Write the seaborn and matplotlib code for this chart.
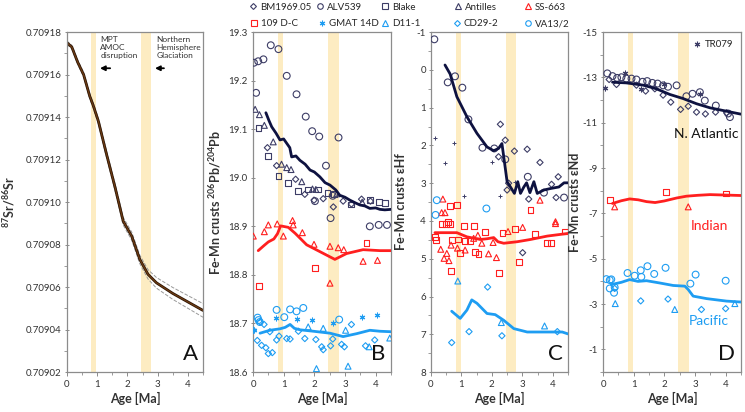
import numpy as np
import seaborn as sns
import matplotlib.pyplot as plt
from matplotlib.lines import Line2D
from matplotlib.ticker import MultipleLocator, FormatStrFormatter

# ---------------- data ----------------
mpt_band = [0.81, 0.97]
nhg_band = [2.46, 2.79]

# panel A: seawater Sr isotope curve
sr_age = [0, 0.16, 0.35, 0.55, 0.75, 0.88, 1.04, 1.3, 1.59, 1.86, 2.14, 2.41, 2.68, 2.96, 3.5, 4.0, 4.5]
sr_val = [0.709175, 0.709173, 0.709166, 0.709160, 0.709150, 0.709145, 0.709138, 0.709123, 0.709107,
          0.709091, 0.709084, 0.709073, 0.709066, 0.709062, 0.709057, 0.709053, 0.709049]
sr_err = [0.8e-6, 0.8e-6, 1.0e-6, 1.0e-6, 1.2e-6, 1.2e-6, 1.3e-6, 1.5e-6, 1.6e-6, 1.8e-6, 1.9e-6,
          2.0e-6, 2.2e-6, 2.5e-6, 2.8e-6, 3.0e-6, 3.2e-6]

# panel B: 206Pb/204Pb
b_bm_x = [0.47, 0.77, 1.39, 1.69, 1.99, 2.29, 2.62, 2.94, 3.21, 3.54, 3.83]
b_bm_y = [19.062, 19.025, 18.997, 18.966, 18.954, 18.957, 18.94, 18.952, 18.946, 18.956, 18.952]
b_alv_x = [0.03, 0.1, 0.17, 0.34, 0.58, 0.83, 1.1, 1.42, 1.72, 1.93, 2.16, 2.38, 2.79, 2.02, 2.53, 2.6, 3.81, 4.1, 4.37]
b_alv_y = [19.237, 19.175, 19.24, 19.244, 19.273, 19.265, 19.21, 19.172, 19.126, 19.096, 19.085, 19.025,
           19.083, 18.952, 18.917, 18.963, 18.90, 18.903, 18.903]
b_blake_x = [0.18, 0.48, 0.83, 1.13, 1.47, 1.78, 2.11, 2.43, 2.64, 3.21, 3.81, 4.1, 4.3]
b_blake_y = [19.103, 19.044, 19.004, 18.989, 18.973, 18.976, 18.976, 18.969, 18.966, 18.945, 18.955, 18.95, 18.948]
b_ant_x = [0.07, 0.21, 0.37, 0.66, 0.93, 1.1, 1.24, 1.59, 1.94, 2.05, 2.73, 3.56]
b_ant_y = [19.141, 19.13, 19.108, 19.074, 19.028, 19.021, 19.017, 18.992, 18.977, 18.976, 18.967, 18.95]
b_atl_x = [0.42, 0.52, 0.61, 0.75, 0.88, 1.0, 1.1, 1.2, 1.26, 1.4, 1.53, 1.7, 1.86, 2.0, 2.18, 2.35, 2.51,
           2.7, 2.83, 3.0, 3.16, 3.35, 3.49, 3.65, 3.81, 4.0, 4.14, 4.3, 4.5]
b_atl_y = [19.134, 19.118, 19.105, 19.092, 19.078, 19.08, 19.071, 19.062, 19.043, 19.045, 19.036, 19.028,
           19.016, 19.012, 19.002, 18.99, 18.985, 18.975, 18.964, 18.96, 18.954, 18.948, 18.944, 18.942,
           18.937, 18.938, 18.935, 18.934, 18.935]
b_ss_x = [0.01, 0.37, 0.5, 0.79, 0.99, 1.29, 1.31, 1.61, 1.99, 2.51, 2.51, 2.78, 2.96, 3.59, 4.06]
b_ss_y = [18.88, 18.889, 18.903, 18.905, 18.88, 18.912, 18.903, 18.887, 18.863, 18.859, 18.783, 18.856,
          18.852, 18.828, 18.83]
b_dc_x = [0.2, 2.02, 3.7]
b_dc_y = [18.778, 18.815, 18.866]
b_ind_x = [0.17, 0.35, 0.5, 0.68, 0.8, 0.9, 1.15, 1.37, 1.75, 2.18, 2.67, 3.05, 3.59, 4.14, 4.5]
b_ind_y = [18.85, 18.86, 18.868, 18.874, 18.885, 18.901, 18.898, 18.886, 18.862, 18.848, 18.832, 18.844,
           18.852, 18.85, 18.85]
b_va_x = [0.15, 0.18, 0.22, 0.77, 1.02, 1.21, 1.42, 1.64, 2.81]
b_va_y = [18.712, 18.707, 18.703, 18.728, 18.713, 18.729, 18.725, 18.732, 18.708]
b_gmat_x = [0.03, 0.74, 1.44, 1.94, 2.6, 3.54, 4.03]
b_gmat_y = [18.686, 18.712, 18.71, 18.708, 18.701, 18.713, 18.718]
b_cd_x = [0.01, 0.14, 0.23, 0.28, 0.36, 0.42, 0.5, 0.55, 0.63, 0.77, 0.85, 1.1, 1.21, 1.48, 1.69, 2.05,
          2.24, 2.29, 2.53, 2.6, 2.89, 2.98, 3.21, 3.67, 3.97]
b_cd_y = [18.686, 18.665, 18.703, 18.655, 18.698, 18.65, 18.638, 18.683, 18.64, 18.666, 18.674, 18.669,
          18.668, 18.684, 18.669, 18.667, 18.652, 18.646, 18.654, 18.668, 18.657, 18.652, 18.698, 18.654, 18.666]
b_d11_x = [1.8, 2.07, 2.29, 3.02, 3.1, 3.79, 4.46]
b_d11_y = [18.693, 18.607, 18.69, 18.686, 18.612, 18.652, 18.67]
b_pac_x = [0.23, 0.55, 0.88, 1.05, 1.21, 1.35, 1.53, 1.97, 2.51, 2.94, 3.38, 3.81, 4.14, 4.5]
b_pac_y = [18.68, 18.686, 18.689, 18.692, 18.698, 18.69, 18.687, 18.684, 18.68, 18.673, 18.679, 18.686,
           18.684, 18.683]

# panel C: eHf
c_alv_x = [0.11, 0.55, 0.79, 1.03, 1.23, 1.69, 2.08, 2.44, 3.18, 3.71, 4.37]
c_alv_y = [-0.81, 0.33, 0.17, 0.47, 1.31, 2.06, 2.08, 2.37, 2.83, 3.25, 3.38]
c_bm_x = [2.28, 2.44, 2.74, 2.22, 3.16, 3.58, 4.18, 2.5, 2.55, 3.21, 4.11, 3.96, 3.01]
c_bm_y = [1.44, 1.86, 2.15, 2.3, 2.1, 2.45, 2.83, 3.18, 3.0, 3.42, 3.38, 3.03, 4.84]
c_tr_x = [0.13, 0.76, 0.46, 1.07, 2.0, 2.28, 2.77]
c_tr_y = [1.8, 1.93, 2.46, 3.34, 2.43, 3.34, 2.96]
c_atl_x = [0.46, 0.63, 0.85, 1.18, 1.51, 1.84, 2.06, 2.22, 2.33, 2.39, 2.5, 2.61, 2.74, 2.85, 2.94, 3.05,
           3.14, 3.25, 3.38, 3.49, 3.71, 3.93, 4.2, 4.37, 4.5]
c_atl_y = [-0.13, 0.11, 0.71, 1.24, 1.68, 2.04, 2.14, 2.08, 1.95, 2.3, 2.96, 3.1, 3.27, 2.96, 3.27, 3.1,
           2.99, 3.25, 2.96, 3.27, 3.18, 3.14, 3.1, 2.99, 2.99]
c_dc_x = [0.63, 0.85, 3.27, 0.13, 0.16, 0.35, 0.5, 0.57, 0.63, 0.68, 0.66, 0.96, 0.88, 1.07, 1.12, 1.4,
          1.45, 1.56, 1.76, 1.29, 2.23, 2.35, 2.75, 2.88, 3.43, 3.8, 3.95, 4.4]
c_dc_y = [3.61, 3.58, 3.7, 4.42, 4.51, 4.08, 4.07, 4.02, 4.07, 4.51, 5.32, 4.84, 4.49, 4.14, 4.53, 4.14,
          4.81, 4.87, 4.3, 4.53, 5.38, 4.31, 4.22, 5.08, 4.34, 4.59, 4.59, 4.28]
c_ss_x = [0.39, 3.58, 0.32, 0.35, 0.46, 0.43, 0.52, 0.59, 0.66, 0.87, 1.12, 1.4, 1.54, 1.67, 1.89, 2.04,
          2.15, 2.53, 3.01, 4.09, 4.09]
c_ss_y = [3.42, 3.45, 4.75, 3.78, 3.78, 4.99, 4.86, 5.05, 4.64, 4.72, 4.77, 4.46, 4.38, 4.59, 4.87, 4.57,
          4.97, 4.28, 4.17, 4.02, 4.07]
c_ind_x = [0.13, 0.5, 0.85, 1.18, 1.62, 1.85, 2.06, 2.2, 2.39, 2.83, 3.27, 3.82, 4.5]
c_ind_y = [4.31, 4.31, 4.31, 4.42, 4.49, 4.47, 4.44, 4.55, 4.59, 4.55, 4.49, 4.40, 4.33]
c_va_x = [0.19, 0.15, 1.82]
c_va_y = [3.45, 3.84, 3.67]
c_cd_x = [0.68, 1.25, 1.86, 2.33, 4.15]
c_cd_y = [7.22, 6.93, 5.75, 7.04, 6.93]
c_d11_x = [0.88, 2.31, 3.73]
c_d11_y = [5.59, 6.69, 6.78]
c_pac_x = [0.68, 0.96, 1.18, 1.34, 1.51, 1.84, 2.11, 2.39, 2.72, 3.16, 3.82, 4.31, 4.5]
c_pac_y = [6.39, 6.58, 6.36, 6.09, 6.18, 6.45, 6.48, 6.63, 6.85, 6.94, 6.94, 6.94, 6.99]

# panel D: eNd
d_alv_x = [0.14, 0.31, 0.46, 0.6, 0.76, 0.93, 1.09, 1.29, 1.44, 1.61, 1.78, 1.96, 2.12, 2.4, 2.72, 2.92,
           3.16, 3.32, 3.68, 4.08, 4.14]
d_alv_y = [-13.18, -13.06, -12.98, -13.01, -12.95, -12.95, -12.91, -12.81, -12.84, -12.76, -12.73, -12.65,
           -12.59, -12.65, -12.17, -12.28, -12.35, -11.98, -11.76, -11.41, -11.25]
d_bm_x = [0.2, 0.44, 1.09, 1.39, 1.69, 1.96, 2.21, 2.53, 2.78, 3.05, 3.34, 3.67, 4.03]
d_bm_y = [-12.91, -12.69, -12.66, -12.4, -12.5, -12.22, -11.91, -11.59, -11.73, -11.47, -11.39, -11.47, -11.44]
d_tr_x = [0.05, 0.71, 1.25, 1.98, 3.16]
d_tr_y = [-12.54, -13.18, -12.5, -12.69, -12.29]
d_atl_x = [0.31, 0.76, 1.31, 1.74, 2.18, 2.61, 3.05, 3.49, 4.03, 4.5]
d_atl_y = [-12.79, -12.76, -12.66, -12.5, -12.25, -12.07, -11.84, -11.66, -11.51, -11.38]
d_dc_x = [0.24, 2.05, 4.0]
d_dc_y = [-7.58, -7.95, -7.88]
d_ss_x = [0.38, 2.78]
d_ss_y = [-7.29, -7.29]
d_ind_x = [0.31, 0.6, 0.87, 1.15, 1.42, 1.7, 2.0, 2.4, 2.72, 3.1, 3.49, 4.0, 4.5]
d_ind_y = [-7.44, -7.56, -7.64, -7.6, -7.52, -7.48, -7.55, -7.68, -7.76, -7.8, -7.83, -7.81, -7.79]
d_va_x = [0.11, 0.22, 0.27, 0.22, 0.38, 0.36, 0.8, 1.03, 1.23, 1.25, 1.45, 1.67, 2.04, 2.85, 3.02, 4.0]
d_va_y = [-4.1, -4.06, -4.09, -3.69, -3.74, -3.5, -4.37, -4.25, -4.49, -4.2, -4.67, -4.33, -4.6, -3.9, -4.3, -4.03]
d_cd_x = [0.38, 1.23, 2.12, 3.21, 4.0]
d_cd_y = [-3.69, -3.14, -3.22, -2.76, -2.8]
d_d11_x = [0.4, 2.34, 4.3]
d_d11_y = [-3.02, -2.76, -3.02]
d_pac_x = [0.27, 0.6, 0.87, 1.14, 1.42, 1.85, 2.29, 2.67, 2.78, 2.94, 3.38, 4.03, 4.5]
d_pac_y = [-3.86, -3.96, -4.08, -4.0, -4.03, -3.93, -3.82, -3.79, -3.64, -3.35, -3.24, -3.13, -3.09]

legend_labels = ['BM1969.05', 'ALV539', 'Blake', 'Antilles', 'SS-663',
                 '109 D-C', 'GMAT 14D', 'D11-1', 'CD29-2', 'VA13/2']

# ---------------- style ----------------
navy_line = '#0e1240'
navy = '#3d3d66'
red = '#ff1f1f'
blue = '#1e9df2'
band = '#fdecc2'
spine = '#8c8c8c'
star = (6, 2, 0)

sns.set_theme(style='ticks')
plt.rcParams['font.family'] = ['Lato', 'DejaVu Sans']
plt.rcParams['mathtext.fontset'] = 'custom'
plt.rcParams['mathtext.bf'] = 'Lato:bold'
plt.rcParams['mathtext.rm'] = 'Lato'
plt.rcParams['mathtext.default'] = 'bf'


def pts(ax, x, y, marker, color, s=20):
    sns.scatterplot(x=x, y=y, ax=ax, marker=marker, s=s, facecolor='none',
                    edgecolor=color, linewidth=0.8, zorder=3, legend=False)


def lpts(ax, x, y, marker, color, s=18, lw=0.8):
    sns.scatterplot(x=x, y=y, ax=ax, marker=marker, s=s, color=color,
                    linewidth=lw, zorder=3, legend=False)


def line(ax, x, y, color, lw=2.0):
    sns.lineplot(x=x, y=y, ax=ax, color=color, lw=lw, estimator=None, zorder=4)


def frame(ax, letter):
    ax.set_xlim(0, 4.5)
    for b in (mpt_band, nhg_band):
        ax.axvspan(b[0], b[1], color=band, lw=0, zorder=0)
    for sp in ax.spines.values():
        sp.set_visible(True)
        sp.set_color(spine)
        sp.set_linewidth(0.9)
    ax.xaxis.set_major_locator(MultipleLocator(1))
    ax.xaxis.set_minor_locator(MultipleLocator(0.5))
    ax.tick_params(which='major', labelsize=7, length=3.5, width=0.7, color=spine,
                   labelcolor='#333333', direction='inout', pad=2)
    ax.tick_params(which='minor', length=2, width=0.6, color=spine, direction='out')
    ax.tick_params(axis='x', which='major', direction='out', length=3, pad=3)
    ax.set_xlabel('Age [Ma]', fontsize=9, fontweight='bold', color='#333333', labelpad=2)
    ax.text(0.96, 0.025, letter, transform=ax.transAxes, ha='right', va='bottom', fontsize=16,
            color='#111111')


fig = plt.figure(figsize=(7.45, 4.12), dpi=100)
bottom, height = 0.097, 0.825
axA = fig.add_axes([0.0899, bottom, 0.1826, height])
axB = fig.add_axes([0.3396, bottom, 0.1852, height])
axC = fig.add_axes([0.5785, bottom, 0.1839, height])
axD = fig.add_axes([0.8094, bottom, 0.1852, height])

# ---- A ----
sr_age_a = np.array(sr_age)
sr_val_a = np.array(sr_val)
sr_err_a = np.array(sr_err)
sns.lineplot(x=sr_age_a, y=sr_val_a + sr_err_a, ax=axA, color='#9a9a9a', lw=0.7, ls='--', estimator=None)
sns.lineplot(x=sr_age_a, y=sr_val_a - sr_err_a, ax=axA, color='#9a9a9a', lw=0.7, ls='--', estimator=None)
sns.lineplot(x=sr_age_a, y=sr_val_a, ax=axA, color='#2a1404', lw=2.0, estimator=None)
sns.lineplot(x=sr_age_a, y=sr_val_a, ax=axA, color='#6e3c14', lw=0.9, estimator=None)
frame(axA, 'A')
axA.set_ylim(0.70902, 0.70918)
axA.yaxis.set_major_locator(MultipleLocator(0.00002))
axA.yaxis.set_minor_locator(MultipleLocator(0.00001))
axA.yaxis.set_major_formatter(FormatStrFormatter('%.5f'))
axA.set_ylabel('$^{87}$Sr/$^{86}$Sr', fontsize=9, fontweight='bold', color='#333333', labelpad=6)
axA.text(1.1, 0.709178, 'MPT\nAMOC\ndisruption', fontsize=6, va='top', ha='left',
         color='#333333', linespacing=1.15)
axA.text(2.96, 0.709178, 'Northern\nHemisphere\nGlaciation', fontsize=6, va='top', ha='left',
         color='#333333', linespacing=1.15, clip_on=False)
for x0, x1 in [(1.52, 1.0), (3.3, 2.82)]:
    axA.annotate('', xy=(x1, 0.709163), xytext=(x0, 0.709163),
                 arrowprops=dict(arrowstyle='-|>', color='black', lw=1.3, mutation_scale=7))

# ---- B ----
pts(axB, b_alv_x, b_alv_y, 'o', navy, s=24)
pts(axB, b_bm_x, b_bm_y, 'D', navy, s=10)
pts(axB, b_blake_x, b_blake_y, 's', navy, s=18)
pts(axB, b_ant_x, b_ant_y, '^', navy, s=18)
line(axB, b_atl_x, b_atl_y, navy_line)
pts(axB, b_ss_x, b_ss_y, '^', red, s=18)
pts(axB, b_dc_x, b_dc_y, 's', red, s=18)
line(axB, b_ind_x, b_ind_y, red)
pts(axB, b_va_x, b_va_y, 'o', blue, s=24)
lpts(axB, b_gmat_x, b_gmat_y, star, blue, s=12)
pts(axB, b_cd_x, b_cd_y, 'D', blue, s=10)
pts(axB, b_d11_x, b_d11_y, '^', blue, s=18)
line(axB, b_pac_x, b_pac_y, blue)
frame(axB, 'B')
axB.set_ylim(18.6, 19.3)
axB.yaxis.set_major_locator(MultipleLocator(0.1))
axB.yaxis.set_major_formatter(FormatStrFormatter('%.1f'))
axB.set_ylabel('Fe-Mn crusts $^{206}$Pb/$^{204}$Pb', fontsize=9, fontweight='bold',
               color='#333333', labelpad=4)

# ---- C ----
pts(axC, c_alv_x, c_alv_y, 'o', navy, s=24)
pts(axC, c_bm_x, c_bm_y, 'D', navy, s=10)
lpts(axC, c_tr_x, c_tr_y, '+', navy, s=6, lw=0.7)
line(axC, c_atl_x, c_atl_y, navy_line)
pts(axC, c_dc_x, c_dc_y, 's', red, s=18)
pts(axC, c_ss_x, c_ss_y, '^', red, s=18)
line(axC, c_ind_x, c_ind_y, red)
pts(axC, c_va_x, c_va_y, 'o', blue, s=24)
pts(axC, c_cd_x, c_cd_y, 'D', blue, s=10)
pts(axC, c_d11_x, c_d11_y, '^', blue, s=18)
line(axC, c_pac_x, c_pac_y, blue)
frame(axC, 'C')
axC.set_ylim(8, -1)
axC.yaxis.set_major_locator(MultipleLocator(1))
axC.yaxis.set_minor_locator(MultipleLocator(0.5))
axC.yaxis.set_major_formatter(FormatStrFormatter('%d'))
axC.set_ylabel('Fe-Mn crusts εHf', fontsize=9, fontweight='bold', color='#333333', labelpad=7)

# ---- D ----
pts(axD, d_alv_x, d_alv_y, 'o', navy, s=24)
pts(axD, d_bm_x, d_bm_y, 'D', navy, s=10)
lpts(axD, d_tr_x, d_tr_y, star, navy, s=12)
line(axD, d_atl_x, d_atl_y, navy_line)
pts(axD, d_dc_x, d_dc_y, 's', red, s=18)
pts(axD, d_ss_x, d_ss_y, '^', red, s=18)
line(axD, d_ind_x, d_ind_y, red)
pts(axD, d_va_x, d_va_y, 'o', blue, s=24)
pts(axD, d_cd_x, d_cd_y, 'D', blue, s=10)
pts(axD, d_d11_x, d_d11_y, '^', blue, s=18)
line(axD, d_pac_x, d_pac_y, blue)
frame(axD, 'D')
axD.set_ylim(0, -15)
axD.yaxis.set_major_locator(MultipleLocator(2, offset=1))
axD.yaxis.set_minor_locator(MultipleLocator(1))
axD.yaxis.set_major_formatter(FormatStrFormatter('%d'))
axD.set_ylabel('Fe-Mn crusts εNd', fontsize=9, fontweight='bold', color='#333333', labelpad=1)
axD.text(3.38, -10.5, 'N. Atlantic', ha='center', va='center', fontsize=10, color='#111111')
axD.text(3.46, -6.45, 'Indian', ha='center', va='center', fontsize=10, color=red)
axD.text(3.46, -2.25, 'Pacific', ha='center', va='center', fontsize=10, color=blue)
tr_handle = Line2D([], [], ls='none', marker=star, color=navy, ms=4, mew=0.8)
axD.legend(handles=[tr_handle], labels=['TR079'], loc='upper right', frameon=False, fontsize=7,
           handlelength=0.8, handletextpad=0.4, borderaxespad=0.4)

# ---- top legend ----
legend_style = [('D', navy), ('o', navy), ('s', navy), ('^', navy), ('^', red),
                ('s', red), (star, blue), ('^', blue), ('D', blue), ('o', blue)]
legend_px = [(253, 7), (320, 7), (385, 7), (458, 7), (528, 7),
             (254, 24), (322, 24), (385, 24), (457, 24), (528, 24)]
for lab, (mk, col), (px, py) in zip(legend_labels, legend_style, legend_px):
    if mk == star:
        h = Line2D([], [], ls='none', marker=mk, color=col, ms=4, mew=0.8)
    else:
        h = Line2D([], [], ls='none', marker=mk, mfc='none', mec=col,
                   ms=3 if mk == 'D' else 4, mew=0.8)
    fig.legend(handles=[h], labels=[lab], loc='center left',
               bbox_to_anchor=((px - 3.9) / 745, 1 - py / 412), frameon=False, fontsize=7,
               handlelength=0.8, handletextpad=0.3, borderpad=0, borderaxespad=0)

fig.savefig('out.png', dpi=100)
